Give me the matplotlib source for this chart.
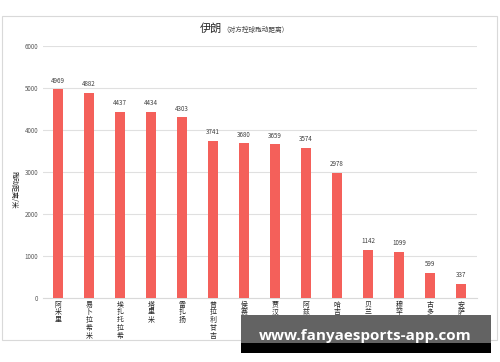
import matplotlib
matplotlib.use("Agg")
import matplotlib.pyplot as plt
from matplotlib.patches import Rectangle

plt.rcParams['font.family'] = ['Noto Sans CJK SC', 'DejaVu Sans']

players = ["阿米里", "易卜拉希米", "埃扎托拉希", "塔里米", "雷扎扬", "普拉利甘吉", "侯赛尼",
           "贾汉巴赫什", "阿兹蒙", "哈吉萨菲", "贝兰万德", "穆罕默迪", "古多斯", "安萨里法德"]
distances = [4969, 4882, 4437, 4434, 4303, 3741, 3680, 3659, 3574, 2978, 1142, 1099, 599, 337]
y_ticks = [0, 1000, 2000, 3000, 4000, 5000, 6000]

bar_color = "#F4605A"
grey = "#595959"

fig = plt.figure(figsize=(5, 3.62), dpi=100)
fig.patch.set_facecolor("white")

# outer light border
fig.patches.append(Rectangle((0.004, 0.06), 0.99, 0.895, transform=fig.transFigure,
                             fill=False, edgecolor="#d9d9d9", linewidth=0.8))

ax = fig.add_axes([0.085, 0.177, 0.868, 0.696])
x = range(len(players))
bars = ax.bar(x, distances, width=0.31, color=bar_color, zorder=3)
for b, v in zip(bars, distances):
    ax.text(b.get_x() + b.get_width() / 2, v + 110, str(v), ha="center", va="bottom",
            fontsize=4.5, color="#404040")

ax.set_xlim(-0.5, len(players) - 0.5)
ax.set_ylim(0, 6000)
ax.set_yticks(y_ticks)
ax.set_yticklabels([str(t) for t in y_ticks], fontsize=4.5, color=grey)
ax.yaxis.grid(True, color="#e0e0e0", linewidth=0.8, zorder=0)
ax.tick_params(axis="y", length=0, pad=3)
ax.tick_params(axis="x", length=0, pad=2)
ax.set_xticks(list(x))
ax.set_xticklabels(["\n".join(p) for p in players], fontsize=5, color="#262626",
                   linespacing=0.95, va="top")
for s in ["top", "right", "left"]:
    ax.spines[s].set_visible(False)
ax.spines["bottom"].set_color("#d9d9d9")

fig.text(0.028, 0.475, "跑动距离/米", rotation=270, ha="center", va="center",
         fontsize=5, color="#262626")

fig.text(0.40, 0.92, "伊朗", fontsize=8, color="#262626", ha="left", va="center")
fig.text(0.445, 0.918, "（对方控球跑动距离）", fontsize=4.8, color="#404040", ha="left", va="center")

# watermark banner
fig.patches.append(Rectangle((0.482, 1 - 343 / 362), 0.5, 28 / 362, transform=fig.transFigure,
                             facecolor="#636363", edgecolor="none", zorder=5))
fig.patches.append(Rectangle((0.482, 1 - 353 / 362), 0.5, 10 / 362, transform=fig.transFigure,
                             facecolor="black", edgecolor="none", zorder=5))
fig.text(0.731, 1 - 336 / 362, "www.fanyaesports-app.com", fontsize=11, fontweight="bold",
         color="white", ha="center", va="center", family="Open Sans", zorder=6)

fig.savefig("out.png", dpi=100)
